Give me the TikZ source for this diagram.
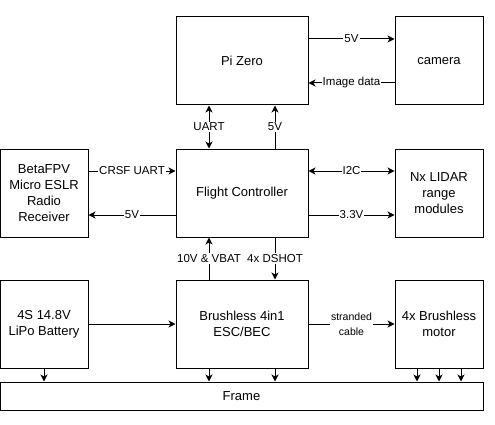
\documentclass[tikz,border=0pt]{standalone}
\usepackage{fontspec}
\setmainfont{Liberation Sans}
\usetikzlibrary{arrows.meta}

\tikzset{
  box/.style={draw, line width=1pt, minimum width=88pt, minimum height=88pt, align=center,
    font=\fontsize{13}{16}\selectfont, inner sep=2pt},
  wide/.style={box, minimum width=132pt},
  arr/.style={line width=1pt, -{Stealth[length=7pt,width=7pt,inset=2pt]}},
  both/.style={line width=1pt, {Stealth[length=7pt,width=7pt,inset=2pt]}-{Stealth[length=7pt,width=7pt,inset=2pt]}},
  lbl/.style={fill=white, inner sep=1pt, font=\fontsize{11.5}{14}\selectfont, align=center}
}

\begin{document}
\begin{tikzpicture}[x=1pt,y=-1pt] %Diagrama del dron
    \useasboundingbox (0,0) rectangle (495,425);

    \node[wide] (pi)    at (242,61)  {Pi Zero};
    \node[box]  (cam)   at (439,61)  {camera};

    \node[box]  (rx)    at (44,193)  {BetaFPV\\Micro ESLR\\Radio\\Receiver};
    \node[wide] (fc)    at (242,193) {Flight Controller};
    \node[box]  (lidar) at (439,193) {Nx LIDAR\\range\\modules};

    \node[box]  (batt)  at (44,324)  {4S 14.8V\\LiPo Battery};
    \node[wide] (esc)   at (242,324) {Brushless 4in1\\ESC/BEC};
    \node[box]  (motor) at (439,324) {4x Brushless\\motor};

    \node[box, minimum width=483pt, minimum height=28pt] (frame) at (241.5,396) {Frame};

    % Pi Zero y camara
    \draw[arr] ([yshift=22pt]pi.east) -- node[lbl]{5V} ([yshift=22pt]cam.west);
    \draw[arr] ([yshift=-22pt]cam.west) -- node[lbl]{Image data} ([yshift=-22pt]pi.east);

    % Flight Controller y Pi Zero
    \draw[both] ([xshift=-33pt]fc.north) -- node[lbl]{UART} ([xshift=-33pt]pi.south);
    \draw[arr] ([xshift=33pt]fc.north) -- node[lbl]{5V} ([xshift=33pt]pi.south);

    % receptor
    \draw[arr] ([yshift=22pt]rx.east) -- node[lbl]{CRSF UART} ([yshift=22pt]fc.west);
    \draw[arr] ([yshift=-22pt]fc.west) -- node[lbl]{5V} ([yshift=-22pt]rx.east);

    % LIDAR
    \draw[both] ([yshift=22pt]fc.east) -- node[lbl]{I2C} ([yshift=22pt]lidar.west);
    \draw[arr] ([yshift=-22pt]fc.east) -- node[lbl]{3.3V} ([yshift=-22pt]lidar.west);

    % ESC
    \draw[arr] ([xshift=-33pt]esc.north) -- node[lbl]{10V \& VBAT} ([xshift=-33pt]fc.south);
    \draw[arr] ([xshift=33pt]fc.south) -- node[lbl]{4x DSHOT} ([xshift=33pt]esc.south |- esc.north);

    \draw[arr] (batt) -- (esc);
    \draw[arr] (esc) -- node[lbl, font=\fontsize{10.5}{15}\selectfont]{stranded\\cable} (motor);

    % al marco
    \draw[arr] (batt.south) -- (batt.south |- frame.north);
    \draw[arr] ([xshift=-33pt]esc.south) -- ([xshift=-33pt]esc.south |- frame.north);
    \draw[arr] ([xshift=33pt]esc.south) -- ([xshift=33pt]esc.south |- frame.north);
    \foreach \dx in {-22,0,22}
        \draw[arr] ([xshift=\dx pt]motor.south) -- ([xshift=\dx pt]motor.south |- frame.north);
\end{tikzpicture}
\end{document}
